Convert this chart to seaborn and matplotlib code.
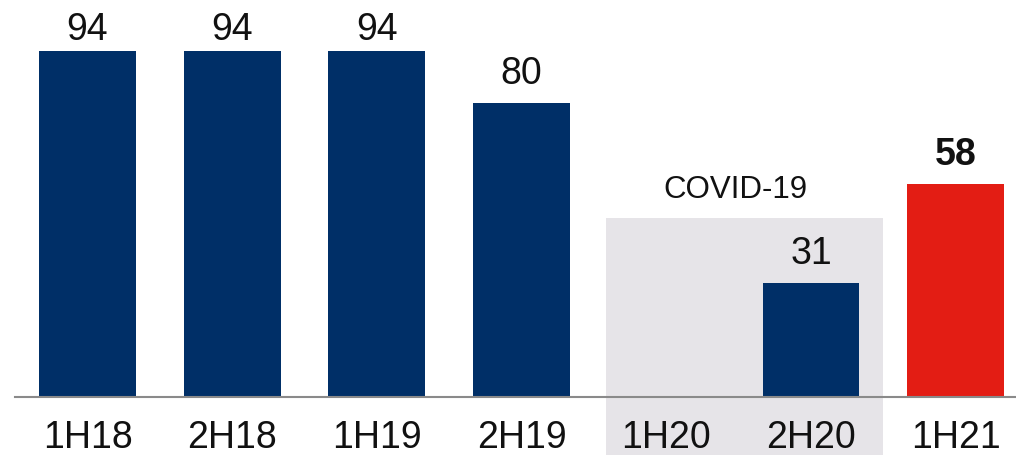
import numpy as np
import pandas as pd
import seaborn as sns
import matplotlib.pyplot as plt
from matplotlib.patches import Rectangle

periods = ["1H18", "2H18", "1H19", "2H19", "1H20", "2H20", "1H21"]
values = [94, 94, 94, 80, np.nan, 31, 58]
bar_colors = ["#002F67", "#002F67", "#002F67", "#002F67", "#002F67", "#002F67", "#E31D14"]

df = pd.DataFrame({"period": periods, "value": values})

sns.set_theme(style="white")
plt.rcParams["font.family"] = ["Liberation Sans", "DejaVu Sans"]

fig = plt.figure(figsize=(10.16, 4.56), dpi=100)
ax = fig.add_axes([0, 58 / 456, 1, 398 / 456])

sns.barplot(data=df, x="period", y="value", hue="period", order=periods,
            palette=dict(zip(periods, bar_colors)), legend=False,
            width=0.67, linewidth=0, saturation=1, ax=ax, zorder=2)

ax.set_xlim(-0.605, 6.417)
ax.set_ylim(0, 108.2)

# COVID-19 shaded band (runs below the axis into the label area)
ax.add_patch(Rectangle((3.58, -15.8), 1.92, 48.6 + 15.8, facecolor="#E6E4E8",
                       edgecolor="none", clip_on=False, zorder=0))
ax.text(4.48, 54.3, "COVID-19", ha="center", va="baseline", fontsize=22.5, color="#111111")

# value labels
for i, v in enumerate(values):
    if np.isnan(v):
        continue
    pad = 8.6 if v > 90 else 14.4
    bold = i == len(values) - 1
    ax.annotate(f"{v:.0f}", (i, v), xytext=(0, pad), textcoords="offset points",
                ha="center", va="baseline", fontsize=27,
                fontweight="bold" if bold else "normal", color="#111111")

for s in ["top", "left", "right"]:
    ax.spines[s].set_visible(False)
ax.spines["bottom"].set_bounds(-0.5, 6.417)
ax.spines["bottom"].set_color("#8A8A8A")
ax.spines["bottom"].set_linewidth(1.5)
ax.spines["bottom"].set_zorder(3)

ax.set_yticks([])
ax.set_xlabel("")
ax.set_ylabel("")
ax.set_xticks(range(len(periods)))
ax.set_xticklabels(periods, fontsize=27, color="#111111", va="baseline")
ax.tick_params(axis="x", length=0, pad=36)
ax.patch.set_alpha(0)

fig.savefig("out.png", dpi=100)
